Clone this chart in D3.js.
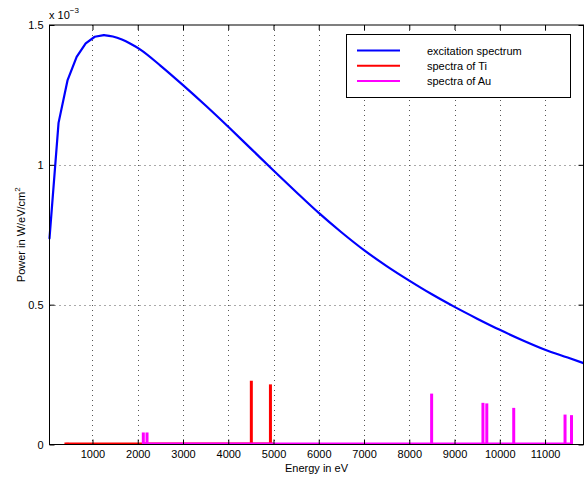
<!DOCTYPE html>
<html>
<head>
<meta charset="utf-8">
<script src="https://cdn.jsdelivr.net/npm/d3@7"></script>
<style>
body{margin:0;background:#fff}
text{font-family:"Liberation Sans",Arial,sans-serif;fill:#000}
</style>
</head>
<body>
<script>
const w=584;
const h=481;

// excitation spectrum, power in units of 1e-3 W/eV/cm^2
const exEnergy=[50,250,450,650,850,1050,1250,1450,1650,1850,2050,2500,3000,3500,4000,4500,5000,5500,6000,6500,7000,7500,8000,8500,9000,9500,10000,10500,11000,11500,11850];
const exPower=[0.737,1.150,1.303,1.386,1.434,1.458,1.464,1.459,1.448,1.432,1.413,1.355,1.285,1.212,1.136,1.058,0.980,0.903,0.828,0.759,0.695,0.638,0.586,0.537,0.492,0.450,0.410,0.373,0.339,0.311,0.291];

// line spectra
const tiRange=[380,5000];
const tiEnergy=[452,4510,4932];
const tiPower=[0.006,0.228,0.215];
const auRange=[2100,11600];
const auEnergy=[2123,2205,8494,9628,9713,10308,11442,11585];
const auPower=[0.043,0.043,0.182,0.149,0.147,0.131,0.107,0.105];

const xTicks=[1000,2000,3000,4000,5000,6000,7000,8000,9000,10000,11000];
const yTicks=[0,0.5,1,1.5];
const legendNames=["excitation spectrum","spectra of Ti","spectra of Au"];
const colors=["#0000ff","#ff0000","#ff00ff"];

let svg=d3.select("body").append("svg")
  .attr("width",w)
  .attr("height",h);

let x=d3.scaleLinear().domain([50,11850]).range([49.5,583.5]);
let y=d3.scaleLinear().domain([0,1.5]).range([444.5,25]);

// grid
svg.append("g").selectAll("line").data(xTicks).enter().append("line")
  .attr("x1",d=>Math.round(x(d))+0.5).attr("x2",d=>Math.round(x(d))+0.5)
  .attr("y1",y(1.5)).attr("y2",y(0))
  .attr("stroke","#555").attr("stroke-width",1).attr("stroke-dasharray","1,4");
svg.append("g").selectAll("line").data([0.5,1]).enter().append("line")
  .attr("x1",x.range()[0]).attr("x2",x.range()[1])
  .attr("y1",d=>Math.round(y(d))+0.5).attr("y2",d=>Math.round(y(d))+0.5)
  .attr("stroke","#555").attr("stroke-width",1).attr("stroke-dasharray","1,4");

// spectra: coarse sampled rise stays linear, smooth after the peak
let pts=exEnergy.map((e,i)=>[e,exPower[i]]);
let lineLin=d3.line().x(d=>x(d[0])).y(d=>y(d[1]));
let lineSmooth=d3.line().curve(d3.curveMonotoneX).x(d=>x(d[0])).y(d=>y(d[1]));
svg.append("path")
  .attr("d",lineLin(pts.slice(0,7)))
  .attr("fill","none").attr("stroke",colors[0]).attr("stroke-width",2.2)
  .attr("stroke-linejoin","round").attr("stroke-linecap","round");
svg.append("path")
  .attr("d",lineSmooth(pts.slice(6)))
  .attr("fill","none").attr("stroke",colors[0]).attr("stroke-width",2.2)
  .attr("stroke-linejoin","round");

function drawLines(range,energy,power,col){
  svg.append("line")
    .attr("x1",x(range[0])).attr("x2",x(range[1]))
    .attr("y1",y(0)-1).attr("y2",y(0)-1)
    .attr("stroke",col).attr("stroke-width",2);
  svg.append("g").selectAll("line").data(energy).enter().append("line")
    .attr("x1",d=>x(d)).attr("x2",d=>x(d))
    .attr("y1",y(0)).attr("y2",(d,i)=>y(power[i]))
    .attr("stroke",col).attr("stroke-width",3);
}
drawLines(tiRange,tiEnergy,tiPower,colors[1]);
drawLines(auRange,auEnergy,auPower,colors[2]);

// axes box
svg.append("rect")
  .attr("x",x.range()[0]).attr("y",y(1.5))
  .attr("width",x.range()[1]-x.range()[0]).attr("height",y(0)-y(1.5))
  .attr("fill","none").attr("stroke","#000").attr("stroke-width",1);

let xAxis=d3.axisBottom(x).tickValues(xTicks).tickSizeInner(-5).tickSizeOuter(0).tickPadding(6)
  .tickFormat(d3.format("d"));
let gx=svg.append("g").attr("transform","translate(0,"+y(0)+")").call(xAxis);
let xTop=d3.axisTop(x).tickValues(xTicks).tickSizeInner(-5).tickSizeOuter(0).tickFormat("");
let gxt=svg.append("g").attr("transform","translate(0,"+y(1.5)+")").call(xTop);
let yAxis=d3.axisLeft(y).tickValues(yTicks).tickSizeInner(-5).tickSizeOuter(0).tickPadding(6)
  .tickFormat(d=>d);
let gy=svg.append("g").attr("transform","translate("+x.range()[0]+",0)").call(yAxis);
let yRight=d3.axisRight(y).tickValues(yTicks).tickSizeInner(-5).tickSizeOuter(0).tickFormat("");
let gyr=svg.append("g").attr("transform","translate("+x.range()[1]+",0)").call(yRight);
[gx,gxt,gy,gyr].forEach(g=>{
  g.select(".domain").remove();
  g.selectAll("text").attr("font-size",11).attr("font-family","Liberation Sans, Arial, sans-serif");
});

// exponent
let ex=svg.append("text").attr("x",49).attr("y",18.5).attr("font-size",11);
ex.append("tspan").text("x 10");
ex.append("tspan").attr("font-size",8).attr("dy",-6).text("\u22123");

// labels
svg.append("text").attr("x",(x.range()[0]+x.range()[1])/2).attr("y",471.5)
  .attr("text-anchor","middle").attr("font-size",11).text("Energy in eV");
let yl=svg.append("text").attr("transform","translate(24.5,"+((y(0)+y(1.5))/2)+") rotate(-90)")
  .attr("text-anchor","middle").attr("font-size",11);
yl.append("tspan").text("Power in W/eV/cm");
yl.append("tspan").attr("font-size",8).attr("dy",-5).text("2");

// legend
let lg=svg.append("g");
lg.append("rect").attr("x",346.5).attr("y",34.5).attr("width",224).attr("height",63)
  .attr("fill","#fff").attr("stroke","#000").attr("stroke-width",1);
legendNames.forEach((n,i)=>{
  let ly=50.5+i*15.2;
  lg.append("line").attr("x1",357).attr("x2",400).attr("y1",ly).attr("y2",ly)
    .attr("stroke",colors[i]).attr("stroke-width",2);
  lg.append("text").attr("x",427).attr("y",ly+4).attr("font-size",11).text(n);
});
</script>
</body>
</html>
